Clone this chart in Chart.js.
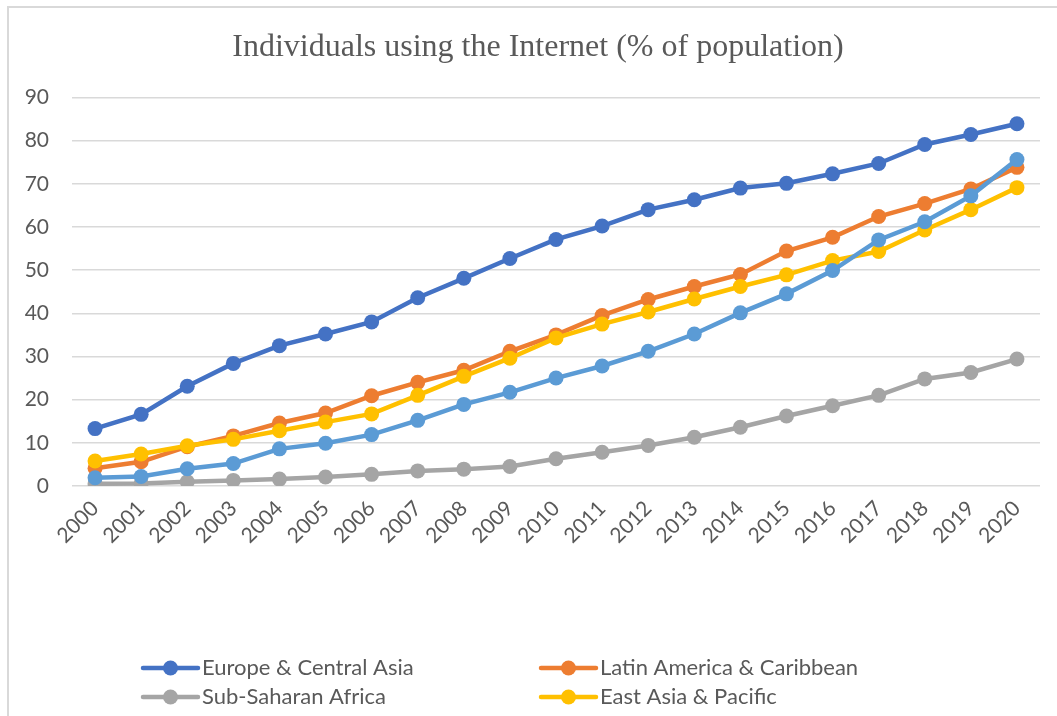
<!DOCTYPE html>
<html>
<head>
<meta charset="utf-8">
<script src="https://cdn.jsdelivr.net/npm/chart.js@4/dist/chart.umd.min.js"></script>
<style>
  html, body { margin: 0; padding: 0; background: #ffffff; }
  #frame { position: absolute; left: 7px; top: 6px; width: 1200px; height: 800px;
           border-left: 2px solid #d9d9d9; border-top: 2px solid #d9d9d9; }
  #wrap { position: absolute; left: 0; top: 0; width: 1057px; height: 716px; }
</style>
</head>
<body>
<div id="frame"></div>
<div id="wrap"><canvas id="c" width="1057" height="716"></canvas></div>
<script>
const years = ['2000','2001','2002','2003','2004','2005','2006','2007','2008','2009','2010',
               '2011','2012','2013','2014','2015','2016','2017','2018','2019','2020'];
const europeCentralAsia = [13.3, 16.6, 23.1, 28.4, 32.5, 35.2, 38.0, 43.6, 48.1, 52.7, 57.1, 60.2, 64.0, 66.3, 69.0, 70.1, 72.3, 74.7, 79.1, 81.4, 83.9];
const latinAmericaCaribbean = [4.1, 5.6, 9.1, 11.6, 14.6, 16.9, 20.9, 24.0, 26.8, 31.2, 35.0, 39.5, 43.2, 46.2, 49.0, 54.4, 57.6, 62.4, 65.4, 68.8, 73.8];
const subSaharanAfrica = [0.5, 0.6, 1.0, 1.3, 1.6, 2.1, 2.7, 3.5, 3.9, 4.5, 6.3, 7.8, 9.4, 11.3, 13.6, 16.2, 18.6, 21.0, 24.8, 26.3, 29.4];
const eastAsiaPacific = [5.8, 7.4, 9.3, 10.8, 12.8, 14.8, 16.7, 21.0, 25.4, 29.6, 34.3, 37.5, 40.3, 43.3, 46.2, 48.9, 52.2, 54.3, 59.3, 64.0, 69.1];
const middleEastNorthAfrica = [1.9, 2.2, 4.0, 5.2, 8.6, 9.9, 11.9, 15.2, 18.9, 21.7, 25.0, 27.8, 31.2, 35.2, 40.1, 44.5, 49.9, 57.0, 61.2, 67.2, 75.6];
const yTicks = [0, 10, 20, 30, 40, 50, 60, 70, 80, 90];

const txt = '#595959';
function ds(label, data, color, order, inLegend) {
  return { label, data, borderColor: color, backgroundColor: color,
           pointBackgroundColor: color, pointBorderColor: color,
           borderWidth: 4.5, pointRadius: 7.5, pointHoverRadius: 7.5,
           pointBorderWidth: 0, tension: 0, order, inLegend };
}

const legendPlugin = {
  id: 'excelLegend',
  afterLayout(chart) {
    const t = chart.titleBlock;
    if (t) { t.left += 18; t.right += 18; }
  },
  afterDraw(chart) {
    const ctx = chart.ctx;
    const items = chart.data.datasets.filter(d => d.inLegend);
    const xs = [143, 541], ys = [668, 697];
    ctx.save();
    items.forEach((d, i) => {
      const x0 = xs[i % 2], y = ys[Math.floor(i / 2)];
      ctx.strokeStyle = d.borderColor; ctx.lineWidth = 4.5; ctx.lineCap = 'round';
      ctx.beginPath(); ctx.moveTo(x0, y); ctx.lineTo(x0 + 55, y); ctx.stroke();
      ctx.fillStyle = d.borderColor;
      ctx.beginPath(); ctx.arc(x0 + 27.5, y, 7.5, 0, Math.PI * 2); ctx.fill();
      ctx.fillStyle = txt; ctx.font = '22px Lato'; ctx.textBaseline = 'middle'; ctx.textAlign = 'left';
      ctx.fillText(d.label, x0 + 59, y);
    });
    ctx.restore();
  }
};

new Chart(document.getElementById('c'), {
  type: 'line',
  data: {
    labels: years,
    datasets: [
      ds('Europe & Central Asia', europeCentralAsia, '#4472C4', 5, true),
      ds('Latin America & Caribbean', latinAmericaCaribbean, '#ED7D31', 4, true),
      ds('Sub-Saharan Africa', subSaharanAfrica, '#A5A5A5', 3, true),
      ds('East Asia & Pacific', eastAsiaPacific, '#FFC000', 2, true),
      ds('Middle East & North Africa', middleEastNorthAfrica, '#5B9BD5', 1, false)
    ]
  },
  options: {
    responsive: false,
    animation: false,
    layout: { padding: { left: 0, right: 17, top: 0, bottom: 130 } },
    plugins: {
      legend: { display: false },
      tooltip: { enabled: false },
      title: {
        display: true,
        text: 'Individuals using the Internet (% of population)',
        color: txt,
        font: { family: 'Liberation Serif', size: 32, weight: 'normal' },
        padding: { top: 28, bottom: 31 }
      }
    },
    scales: {
      x: {
        offset: true,
        grid: { display: false, drawTicks: false },
        border: { display: false },
        ticks: { color: txt, font: { family: 'Lato', size: 21 }, minRotation: 45, maxRotation: 45, padding: 10, autoSkip: false },
        afterFit(s) { s.height = 100; }
      },
      y: {
        min: 0, max: 90,
        afterBuildTicks(s) { s.ticks = yTicks.map(v => ({ value: v })); },
        grid: { color: '#d9d9d9', lineWidth: 1.5, drawTicks: false },
        border: { display: false },
        ticks: { color: txt, font: { family: 'Lato', size: 21 }, padding: 23 },
        afterFit(s) { s.width = 72; }
      }
    }
  },
  plugins: [legendPlugin]
});
</script>
</body>
</html>
